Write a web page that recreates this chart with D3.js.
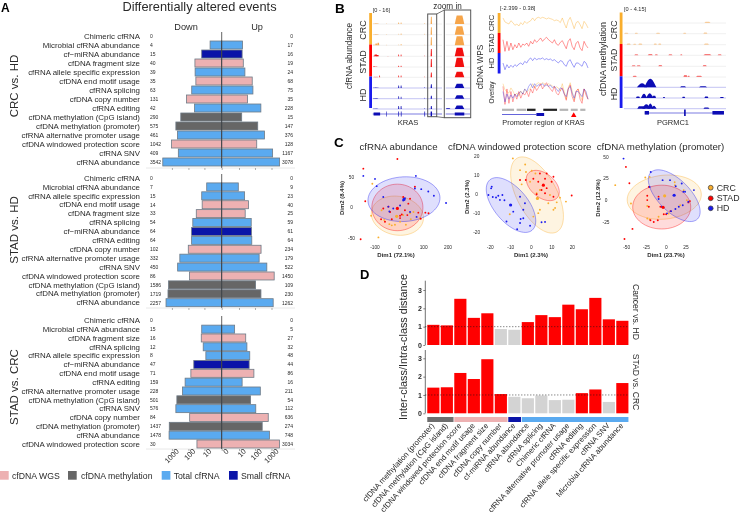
<!DOCTYPE html>
<html><head><meta charset="utf-8">
<script src="https://cdn.jsdelivr.net/npm/d3@7"></script>
<style>
html,body{margin:0;padding:0;background:#fff}
svg{display:block;filter:blur(.35px)}
text{font-family:"Liberation Sans",Arial,sans-serif;fill:#2a2a2a}
</style></head><body><svg id="c" width="740" height="517"></svg>
<script>
// ---------- Panel A data ----------
const crcHdLabels=["Chimeric cfRNA","Microbial cfRNA abundance","cf−miRNA abundance","cfDNA fragment size","cfRNA allele specific expression","cfDNA end motif usage","cfRNA splicing","cfDNA copy number","cfRNA editing","cfDNA methylation (CpG island)","cfDNA methylation (promoter)","cfRNA alternative promoter usage","cfDNA windowed protection score","cfRNA SNV","cfRNA abundance"];
const crcHdDown=[0,4,15,40,39,35,63,131,42,290,575,461,1042,409,3542];
const crcHdUp=[0,17,16,19,24,68,75,35,228,15,147,376,128,1167,3078];
const crcHdKind=["T","T","S","W","T","W","T","W","T","M","M","T","W","T","T"];

const stadHdLabels=["Chimeric cfRNA","Microbial cfRNA abundance","cfRNA allele specific expression","cfDNA end motif usage","cfDNA fragment size","cfRNA splicing","cf−miRNA abundance","cfRNA editing","cfDNA copy number","cfRNA alternative promoter usage","cfRNA SNV","cfDNA windowed protection score","cfDNA methylation (CpG island)","cfDNA methylation (promoter)","cfRNA abundance"];
const stadHdDown=[0,7,15,14,33,54,64,64,102,332,450,86,1586,1719,2257];
const stadHdUp=[0,9,23,40,25,59,61,64,234,179,522,1450,109,230,1262];
const stadHdKind=["T","T","T","W","W","T","S","T","W","T","T","W","M","M","T"];

const stadCrcLabels=["Chimeric cfRNA","Microbial cfRNA abundance","cfDNA fragment size","cfRNA splicing","cfRNA allele specific expression","cf−miRNA abundance","cfDNA end motif usage","cfRNA editing","cfRNA alternative promoter usage","cfDNA methylation (CpG island)","cfRNA SNV","cfDNA copy number","cfDNA methylation (promoter)","cfRNA abundance","cfDNA windowed protection score"];
const stadCrcDown=[0,15,16,12,8,47,71,159,228,501,576,84,1437,1478,30];
const stadCrcUp=[0,5,27,32,48,44,86,16,211,54,112,636,274,748,3034];
const stadCrcKind=["T","T","W","T","T","S","W","T","T","M","T","W","M","T","W"];

const logTicks=[-1000,-100,-10,0,10,100,1000];
const kindNames=[["W","cfDNA WGS"],["M","cfDNA methylation"],["T","Total cfRNA"],["S","Small cfRNA"]];
const kindColor={W:"#edb1b2",M:"#666666",T:"#5aaaf0",S:"#0a14a8"};

// ---------- Panel B data: [position, half-width, height] ----------
const krasTracks=[
 [[3,3,1],[6,3,1.2],[20,.7,1],[37.5,.7,2.5],[41,.7,2.5],[75,.7,1.5],[84.6,1,12]],
 [[3,3,.8],[6,3,1.2],[20,.7,.8],[37.5,.7,1.5],[41,.7,2],[75,.7,1.5],[84.6,1,12]],
 [[2,1.5,1.5],[5,1.5,3],[8,1.5,4],[20,.7,1],[37.5,.7,1.5],[41,.7,2],[75,.7,1],[84.6,1,13]],
 [[2,2,1],[4.5,2.5,3],[7,2,2],[22,1,.6],[37.5,.7,3],[41,.7,3],[75,.7,1.2],[84.6,1,12]],
 [[2,1.5,1.5],[5,2,1],[37.5,.7,2],[41,.7,2],[84.6,1,13]],
 [[3,2,1],[6,2,1],[10,.7,3],[37.5,.7,3],[41,.7,3],[75,.7,1.5],[84.6,1,8]],
 [[3,3,.8],[6,3,.8],[37.5,.8,4],[41,.8,4],[75,.7,1.5],[84.6,1,6]],
 [[3,3,1],[6,2,1],[37.5,.7,4],[41,.7,3],[75,.7,1.5],[84.6,1,5]],
 [[3,3,1],[6,2,1],[37.5,.8,5],[41,.8,5],[75,.7,1.5],[82.2,.5,1],[84.6,1,5]]
];
const krasExons=[[1.3,10.7],[19.7,20.5],[37,38],[40.6,41.6],[74.6,75.6],[83.6,85.6]];
const groupNames=["CRC","STAD","HD"];
const groupColor={CRC:"#f9ae2d",STAD:"#ff0000",HD:"#1a1aee"};
const trackGroups=["CRC","CRC","CRC","STAD","STAD","STAD","HD","HD","HD"];
const peakColor={CRC:"#f6a54a",STAD:"#f20f0f",HD:"#0c0cb4"};

const wpsCRC=[-0.31,-0.87,-1.01,-1.15,-0.69,-0.96,-1.33,-1.15,-1.43,-0.96,-1.24,-0.78,-1.06,-0.87,-0.69,-0.31,-0.69,-0.31,-0.22,-0.36,-0.22,-0.31,-0.45,-0.31,-0.41,-0.50,-0.69,-0.59,-0.69,-0.96,-0.31,-1.06,-1.70,-0.69,-0.22,-0.96,-1.80,-0.96,-0.78,-1.24,-1.80,-0.78,-1.15,-1.70];
const wpsSTAD=[-0.55,-2.17,-0.78,-2.07,-1.01,-1.94,-1.24,-1.70,-1.01,-1.61,-1.15,-1.33,-1.01,-1.47,-0.78,-1.15,-0.55,-0.92,-0.64,-0.31,-0.78,-0.45,-0.22,-0.55,-0.78,-1.01,-0.55,-1.15,-1.33,-0.92,-0.68,-1.24,-1.80,-0.78,-0.41,-1.47,-1.94,-1.01,-0.78,-1.70,-2.07,-0.78,-1.33,-1.70];
const wpsHD=[-1.01,-1.94,-1.24,-1.70,-1.33,-1.61,-1.24,-1.47,-1.15,-1.01,-1.24,-0.78,-1.01,-0.55,-0.31,-0.68,-0.31,-0.55,-0.41,-0.45,-0.31,-0.55,-0.41,-0.55,-0.45,-0.68,-0.55,-0.78,-1.01,-0.68,-0.78,-1.24,-1.47,-0.78,-0.55,-1.15,-1.61,-1.01,-1.01,-1.24,-1.47,-0.78,-1.01,-1.70];
const promoterGray=[[0,14],[17,28],[67,77],[80,88],[91,97]];
const promoterBlack=[[29,39],[48,64]];
const promoterGeneLine=[0,40];
const promoterExon=[40,49];
const promoterMark=83.4;

const methTracks=[
 [[81.8,3,.5]],
 [[2.3,2,.4],[12.1,1.5,.4],[33.4,2,.4],[59.5,1.5,.4],[79.8,2,.5]],
 [[4.6,2,.5],[10.5,1.5,.4],[16,2,.5],[30.7,1.5,.5],[35,1.5,.5],[80.8,2.5,.5]],
 [[12.1,2,.4],[25.8,2.5,.5],[31.7,1.5,.4],[45.5,2,.4],[56.2,1,.4],[81.8,4,.5],[93.8,2,.4]],
 [[9.5,2,.4],[14.4,2,.4],[35.6,2,.5],[79.1,2,.5]],
 [[10.5,2,.5],[60.2,2,.8],[63.4,1,.5],[73.6,3,.5]],
 [[17.7,5,1.7],[25.8,6,3.6],[57.9,3,.4],[77.5,4,.4]],
 [[13.7,2,.6],[19.6,3,1.8],[25.2,3.5,2],[29.4,2,1],[39.2,1,.4],[58.5,1.5,.5],[80.8,2,.6],[96,2,.4]],
 [[17,4,1],[21.9,4,1.8],[25.8,3,2.2],[29.4,2.5,1.2],[80.8,3,.5]]
];
const pgrmcLine=[20.3,98];
const pgrmcExons=[[20.3,24.5],[86.7,98]];
const pgrmcTall=[58.9,60.5];

// ---------- Panel C data (Dim1, Dim2) ----------
const abundanceCRC=[[-111,40],[-86,-49],[-116,-13],[-41,-27],[-18,-28],[27,-28],[47,-19],[85,-17],[-62,-20],[3,-23],[-73,-4],[44,-9],[-31,-29],[58,-7],[16,-12]];
const abundanceSTAD=[[-8,81],[-148,65],[-140,11],[-159,-52],[64,35],[-45,2],[-66,-1],[-75,-19],[-59,-23],[-31,-19],[23,-4],[37,7],[33,-12],[3,-13],[78,-8],[107,-8],[120,-9],[88,-18],[16,18],[44,15],[3,-17],[10,-11],[-38,-7]];
const abundanceHD=[[-148,53],[-100,48],[-93,36],[68,53],[64,32],[90,31],[119,27],[142,20],[192,8],[23,16],[-41,-6],[-25,-1],[-66,18],[44,-7],[71,-15],[3,4],[-45,2],[16,12]];
const abundanceMeans=[[-11,-14,"CRC"],[-8,-1,"STAD"],[19,14,"HD"]];

const wpsPcaCRC=[[-3,15.9],[.2,12.6],[-9,19.1],[-5.5,12.9],[-10.5,-10.4],[-4.7,5.4],[2.6,.7],[14,-1.6],[16.9,-3.7],[8.3,-4.6],[4.2,-8],[10.8,-8],[3.4,-9.8],[1,-11.6],[11.6,-7.1],[12.4,-4.1],[-.6,6.8],[-2.6,11.9],[2,11.1],[4.2,2.4],[9.1,-.2]];
const wpsPcaSTAD=[[19.7,-.5],[4.2,11.1],[7.5,11.1],[10.8,9.4],[-2.7,7.7],[6.7,8.4],[7.5,3.4],[2.6,.2],[10.8,-1.1],[3.4,6.8],[6.7,.7],[1,8.4],[9.9,6.8],[5,2.4],[-5.5,7.7]];
const wpsPcaHD=[[-19.3,4.2],[-19.6,3.3],[-20.9,-.2],[-18.8,-1.3],[-17.2,-1.5],[-16.1,-.6],[-15.3,-2.8],[-14.1,-.2],[-13.1,-3],[-12.1,-14.2],[-6.9,-18.3],[-8.8,-9],[-5.5,-15],[-5.5,-1.1],[-3.1,-4.6],[-5.2,-12.9],[-.6,-16.4],[5,-14.6],[6.7,-14.4],[-3.9,-12.5],[-3.9,-8]];
const wpsPcaMeans=[[3,-2,"CRC"],[5.9,5,"STAD"],[-10.1,-5.5,"HD"]];

const methPcaCRC=[[-64.5,17.7],[-26.5,26.5],[-21,27.3],[10.7,21],[22,11.9],[-44.6,-3.5],[-24,-21],[-21,-22],[-24,-6.4],[-9.7,-19],[3,-15.1],[11,17.7],[17.6,-5.5],[26,.3]];
const methPcaSTAD=[[-51,38.9],[-46.6,20],[-52.8,-44.7],[-42.7,-33],[-22,15.7],[-24,5.4],[-24,.4],[-22,-7.4],[-20,-23],[-15.8,-25],[-10.7,-23],[-3.1,-16],[-.1,-16],[-7.4,-7.4],[5.3,-12.4],[28,-2.3],[30,-.8],[-9.7,4.4]];
const methPcaHD=[[-54,48.5],[-19.6,33],[-4.6,23.5],[4.8,23.5],[19.6,19.6],[12,16.5],[23.8,10],[35,12],[28,-1.6],[20.9,-5.5],[15.9,-7.4],[11.6,-10],[6.1,-12.4],[1,-15],[-5.4,-7.4],[-9.6,1.6],[-21,15.7],[21.7,10]];
const methPcaMeans=[[-2,5.3,"CRC"],[-4,-8,"STAD"],[10,6,"HD"]];

// ellipses: centre, major semi-axis vector, minor semi-axis vector (data units)
const abundanceEllipses=[["CRC",-8,-13,107,-6,8,32],["STAD",-8,.7,105,0,0,38.6],["HD",19,14.4,148,3,-4,37]];
const wpsPcaEllipses=[["CRC",2.8,-.2,9.6,-19.5,8.6,4.9],["STAD",5.6,4.8,7.1,-6.4,3.8,4.8],["HD",-9.9,-5.5,10.3,-13.3,6.3,5.7]];
const methPcaEllipses=[["CRC",-2.5,3.8,46.8,4.6,2.9,-25.3],["STAD",-5.7,-7.7,36.7,0,0,25.4],["HD",10.1,5.5,29.5,-27,14.3,13.1]];

// ---------- Panel D data ----------
const featureLabels=["cfDNA methylation (promoter)","cfDNA methylation (CpG island)","cfDNA windowed protection score","cfDNA end motif usage","cfDNA fragment size","cfDNA copy number","cf-miRNA abundance","cfRNA abundance","cfRNA splicing","Chimeric cfRNA","cfRNA alternative promoter usage","cfRNA editing","cfRNA allele specific expression","cfRNA SNV","Microbial cfRNA abundance"];
const featureKind=["M","M","W","W","W","W","S","T","T","T","T","T","T","T","T"];
const cancerVsHd=[1.1,1.07,2.52,1.48,1.73,.87,.83,1.25,1.63,1.52,2.2,1.95,2.57,1.4,1.32];
const stadVsCrc=[1.4,1.42,2.2,1.87,2.95,1.05,.9,.82,.97,.72,.74,1.1,1.3,.62,1.65];

// ---------- drawing ----------
const svg=d3.select("#c");
function txt(x,y,s,size,o={}){
  const t=svg.append("text").attr("x",x).attr("y",y).attr("font-size",size).text(s)
    .attr("text-anchor",o.anchor||"start");
  if(o.weight)t.attr("font-weight",o.weight);
  if(o.rot!==undefined)t.attr("transform",`rotate(${o.rot},${x},${y})`);
  if(o.fill)t.style("fill",o.fill);
  return t;
}
// Panel letters and titles
[["A",1,12,12],["B",335,13,13.5],["C",334,146.5,13.5],["D",360,279,13]].forEach(d=>txt(d[1],d[2],d[0],d[3],{weight:"bold"}).style("fill","#000"));
txt(199.5,11,"Differentially altered events",12.8,{anchor:"middle"});
txt(186,29.5,"Down",9.2,{anchor:"middle"});
txt(257,29.5,"Up",9.2,{anchor:"middle"});

const xLog=d3.scaleSymlog().constant(1).domain([-10000,10000]).range([221.7-66.4,221.7+66.4]);

function pyramid(labels,down,up,kind,top,bottom,axisY,lineTop,sideLabel,sideY,showTickLabels,upAnchorX){
  const y=d3.scalePoint().domain(labels).range([top,bottom]);
  const g=svg.append("g");
  const ax=g.append("g").attr("transform",`translate(0,${axisY})`)
    .call(d3.axisBottom(xLog).tickValues(logTicks).tickSize(2).tickFormat(d=>showTickLabels?Math.abs(d):""));
  ax.select(".domain").remove();
  g.insert("line",":first-child").attr("x1",146).attr("x2",295).attr("y1",axisY).attr("y2",axisY).attr("stroke","#e2e2e2").attr("stroke-width",.8);
  ax.selectAll("line").attr("stroke","#777").attr("stroke-width",.6);
  if(showTickLabels){
    ax.selectAll("text").attr("font-size",7.5).attr("text-anchor","end").attr("dx",3).attr("dy",3)
      .attr("transform","rotate(-45)").attr("y",4);
  }
  const rows=labels.map((l,i)=>({l,d:down[i],u:up[i],k:kind[i]}));
  const h=8;
  g.selectAll(".d").data(rows.filter(r=>r.d>0)).join("rect")
    .attr("x",r=>xLog(-r.d)).attr("width",r=>xLog(0)-xLog(-r.d))
    .attr("y",r=>y(r.l)-h/2).attr("height",h)
    .attr("fill",r=>kindColor[r.k]).attr("stroke","#6e7a86").attr("stroke-width",.8);
  g.selectAll(".u").data(rows.filter(r=>r.u>0)).join("rect")
    .attr("x",xLog(0)).attr("width",r=>xLog(r.u)-xLog(0))
    .attr("y",r=>y(r.l)-h/2).attr("height",h)
    .attr("fill",r=>kindColor[r.k]).attr("stroke","#6e7a86").attr("stroke-width",.8);
  g.append("line").attr("x1",xLog(0)).attr("x2",xLog(0)).attr("y1",lineTop).attr("y2",axisY).attr("stroke","#222").attr("stroke-width",.7);
  rows.forEach(r=>{
    txt(140,y(r.l)+2.7,r.l,7.9,{anchor:"end"});
    txt(150,y(r.l)+1.8,r.d,5);
    txt(upAnchorX,y(r.l)+1.8,r.u,5,{anchor:"end"});
  });
  txt(18,sideY,sideLabel,11.5,{anchor:"middle",rot:-90});
}
pyramid(crcHdLabels,crcHdDown,crcHdUp,crcHdKind,36,162,168,32,"CRC vs. HD",86,false,293);
pyramid(stadHdLabels,stadHdDown,stadHdUp,stadHdKind,178,302.7,308,174,"STAD vs. HD",230,false,293);
pyramid(stadCrcLabels,stadCrcDown,stadCrcUp,stadCrcKind,320.3,444,449,316,"STAD vs. CRC",387,true,293);

// Legend A
const legendX=[0,68,161.7,229];
kindNames.forEach((k,i)=>{
  svg.append("rect").attr("x",legendX[i]).attr("y",471).attr("width",8.7).attr("height",8.7).attr("fill",kindColor[k[0]]);
  txt(legendX[i]+(i==1?13:12),479,k[1],8.7);
});

// Panel B helpers
function colorBar(x,stops){
  const bands=[[stops[0],stops[1],"CRC"],[stops[1],stops[2],"STAD"],[stops[2],stops[3],"HD"]];
  svg.selectAll(null).data(bands).join("rect").attr("x",x).attr("width",2.8)
    .attr("y",d=>d[0]).attr("height",d=>d[1]-d[0]).attr("fill",d=>groupColor[d[2]]);
}
function peakPath(xS,base,hScale,p){
  const [c,w,h]=p;
  return d3.line()([[xS(c-w),base],[xS(c-w*.6),base-hScale*h*.98],[xS(c+w*.6),base-hScale*h*.98],[xS(c+w),base]]);
}
// KRAS abundance
const krasBase=[24,34.7,45.3,56.3,67,77.3,88,98.7,109];
const xKras=d3.scaleLinear().domain([0,100]).range([372.7,442]);
const xKrasZoom=d3.scaleLinear().domain([81.7,86.8]).range([445.7,470]);
colorBar(369.2,[13,44.5,76.5,108]);
krasTracks.forEach((tr,i)=>{
  const g=trackGroups[i], b=krasBase[i];
  const lineC=g=="HD"?"#b4b4f0":"#ececec";
  [[372.7,442],[445.7,470]].forEach(r=>svg.append("line").attr("x1",r[0]).attr("x2",r[1]).attr("y1",b).attr("y2",b).attr("stroke",lineC).attr("stroke-width",.8));
  tr.forEach(p=>{
    svg.append("path").attr("d",peakPath(xKras,b,10/16,p)).attr("fill",peakColor[g]).attr("opacity",p[2]<2?.55:.95);
    if(p[0]>82&&p[0]<87) svg.append("path").attr("d",peakPath(xKrasZoom,b,.72,p)).attr("fill",peakColor[g]);
  });
});
// KRAS gene
svg.append("line").attr("x1",372.7).attr("x2",442).attr("y1",114).attr("y2",114).attr("stroke","#2222cc").attr("stroke-width",.6);
svg.append("line").attr("x1",445.7).attr("x2",470).attr("y1",114).attr("y2",114).attr("stroke","#2222cc").attr("stroke-width",.6);
krasExons.forEach(e=>{
  svg.append("rect").attr("x",xKras(e[0])).attr("width",xKras(e[1])-xKras(e[0])).attr("y",e[1]-e[0]>5?112.5:111.5).attr("height",e[1]-e[0]>5?3:5).attr("fill","#0c0cb4");
});
svg.append("rect").attr("x",xKrasZoom(83.6)).attr("width",xKrasZoom(85.6)-xKrasZoom(83.6)).attr("y",112.5).attr("height",3).attr("fill","#0c0cb4");
// Zoom callout
svg.append("rect").attr("x",427.7).attr("y",14).attr("width",9).attr("height",102.7).attr("fill","none").attr("stroke","#555").attr("stroke-width",1);
svg.append("rect").attr("x",444.3).attr("y",10).attr("width",26.4).attr("height",107.7).attr("fill","none").attr("stroke","#555").attr("stroke-width",1);
svg.append("path").attr("d","M436.7,14L444.3,10M436.7,116.7L444.3,117.7").attr("stroke","#555").attr("stroke-width",.8).attr("fill","none");
txt(447.5,9,"zoom in",8.2,{anchor:"middle"});
txt(372.7,11.5,"[0 - 16]",5.6);
txt(408,125,"KRAS",7.6,{anchor:"middle"});
txt(352,56,"cfRNA abundance",8.2,{anchor:"middle",rot:-90});
txt(366,30,"CRC",9,{anchor:"middle",rot:-90});
txt(366,62,"STAD",9,{anchor:"middle",rot:-90});
txt(366,95,"HD",9,{anchor:"middle",rot:-90});

// WPS
const xWpsIdx=d3.scaleLinear().domain([0,wpsCRC.length-1]).range([503,588]);
const xProm=d3.scaleLinear().domain([0,100]).range([502,588]);
colorBar(497.7,[13,33,53,73.5]);
const wpsRows=[["CRC",wpsCRC,13],["STAD",wpsSTAD,33],["HD",wpsHD,53]];
wpsRows.forEach(r=>{
  const yS=d3.scaleLinear().domain([-2.399,.38]).range([r[2]+20,r[2]]);
  const ln=d3.line().x((d,i)=>xWpsIdx(i)).y(d=>yS(d));
  svg.append("path").attr("d",ln(r[1])).attr("fill","none").attr("stroke",groupColor[r[0]]).attr("stroke-width",.7).attr("opacity",.6);
});
const yOver=d3.scaleLinear().domain([-2.399,.38]).range([107,76]);
wpsRows.forEach(r=>{
  const ln=d3.line().x((d,i)=>xWpsIdx(i)).y(d=>yOver(d));
  svg.append("path").attr("d",ln(r[1])).attr("fill","none").attr("stroke",groupColor[r[0]]).attr("stroke-width",.7).attr("opacity",.5);
});
promoterGray.forEach(s=>svg.append("rect").attr("x",xProm(s[0])).attr("width",xProm(s[1])-xProm(s[0])).attr("y",108.7).attr("height",2.2).attr("fill","#b5b5b5"));
promoterBlack.forEach(s=>svg.append("rect").attr("x",xProm(s[0])).attr("width",xProm(s[1])-xProm(s[0])).attr("y",108.7).attr("height",2.2).attr("fill","#222"));
svg.append("line").attr("x1",xProm(promoterGeneLine[0])).attr("x2",xProm(promoterGeneLine[1])).attr("y1",114.5).attr("y2",114.5).attr("stroke","#2222cc").attr("stroke-width",.7);
svg.append("rect").attr("x",xProm(promoterExon[0])).attr("width",xProm(promoterExon[1])-xProm(promoterExon[0])).attr("y",113).attr("height",3).attr("fill","#0c0cb4");
svg.append("path").attr("d",d3.symbol(d3.symbolTriangle,13)()).attr("transform",`translate(${xProm(promoterMark)},115.5)`).attr("fill","#ff0000");
txt(500,9.5,"[-2.399 - 0.38]",5.7);
txt(543.5,125,"Promoter region of KRAS",7.3,{anchor:"middle"});
txt(483,67,"cfDNA WPS",8.3,{anchor:"middle",rot:-90});
txt(494,23,"CRC",7.6,{anchor:"middle",rot:-90});
txt(494,43,"STAD",7.6,{anchor:"middle",rot:-90});
txt(494,63,"HD",7.6,{anchor:"middle",rot:-90});
txt(493.5,92.5,"Overlay",6.4,{anchor:"middle",rot:-90});

// Methylation tracks
const methBase=[23,33.7,44.7,55.3,66.3,77,87.3,98,108.7];
const xMeth=d3.scaleLinear().domain([0,100]).range([624,726]);
colorBar(619.7,[12.5,44,76.3,108]);
methTracks.forEach((tr,i)=>{
  const g=trackGroups[i],b=methBase[i];
  svg.append("line").attr("x1",624).attr("x2",726).attr("y1",b).attr("y2",b).attr("stroke",g=="HD"?"#b4b4f0":"#ececec").attr("stroke-width",.8);
  tr.forEach(p=>{
    const big=p[2]>1;
    const pts=[[xMeth(p[0]-p[1]),b],[xMeth(p[0]),b-p[2]*10/4.15],[xMeth(p[0]+p[1]),b]];
    const path=big?d3.line().curve(d3.curveMonotoneX)(pts):peakPath(xMeth,b,10/4.15,p);
    svg.append("path").attr("d",path).attr("fill",peakColor[g]).attr("opacity",g=="HD"?1:.55);
  });
});
svg.append("line").attr("x1",xMeth(pgrmcLine[0])).attr("x2",xMeth(pgrmcLine[1])).attr("y1",113).attr("y2",113).attr("stroke","#2222cc").attr("stroke-width",.6);
pgrmcExons.forEach(e=>svg.append("rect").attr("x",xMeth(e[0])).attr("width",xMeth(e[1])-xMeth(e[0])).attr("y",111).attr("height",3.6).attr("fill","#0c0cb4"));
svg.append("rect").attr("x",xMeth(pgrmcTall[0])).attr("width",xMeth(pgrmcTall[1])-xMeth(pgrmcTall[0])).attr("y",109.5).attr("height",6.5).attr("fill","#0c0cb4");
txt(624,10.5,"[0 - 4.15]",5.6);
txt(673,125,"PGRMC1",7.5,{anchor:"middle"});
txt(605.5,59,"cfDNA methylation",9,{anchor:"middle",rot:-90});
txt(617,30,"CRC",8.8,{anchor:"middle",rot:-90});
txt(617,60,"STAD",8.8,{anchor:"middle",rot:-90});
txt(617,94,"HD",8.8,{anchor:"middle",rot:-90});

// Panel C
function pca(o){
  const x=d3.scaleLinear().domain(o.xd).range(o.xr), y=d3.scaleLinear().domain(o.yd).range(o.yr);
  const g=svg.append("g");
  const ts=d3.range(0,65).map(i=>i/64*2*Math.PI);
  o.ellipses.forEach(e=>{
    const pts=ts.map(t=>[x(e[1]+Math.cos(t)*e[3]+Math.sin(t)*e[5]),y(e[2]+Math.cos(t)*e[4]+Math.sin(t)*e[6])]);
    g.append("path").attr("d",d3.line()(pts)).attr("fill",groupColor[e[0]]).attr("fill-opacity",.14)
      .attr("stroke",groupColor[e[0]]).attr("stroke-opacity",.55).attr("stroke-width",.7);
  });
  [["CRC",o.crc],["STAD",o.stad],["HD",o.hd]].forEach(s=>{
    g.selectAll(null).data(s[1]).join("circle").attr("cx",d=>x(d[0])).attr("cy",d=>y(d[1])).attr("r",.95).attr("fill",groupColor[s[0]]);
  });
  g.selectAll(null).data(o.means).join("circle").attr("cx",d=>x(d[0])).attr("cy",d=>y(d[1])).attr("r",1.6).attr("fill",d=>groupColor[d[2]]);
  o.xt.forEach(v=>txt(x(v),o.tickY,v,4.8,{anchor:"middle"}));
  o.yt.forEach(v=>txt(o.yTickX,y(v)+1.6,v,4.8,{anchor:"middle"}));
  txt(o.dimX,257,o.xl,6,{anchor:"middle",weight:"bold"});
  txt(o.dimYX,o.dimYY,o.yl,6,{anchor:"middle",weight:"bold",rot:-90});
  txt(o.titleX,150,o.title,o.titleSize,{anchor:"middle"});
}
pca({xd:[-100,200],xr:[375,448],yd:[-50,50],yr:[238,177.7],ellipses:abundanceEllipses,crc:abundanceCRC,stad:abundanceSTAD,hd:abundanceHD,means:abundanceMeans,xt:[-100,0,100,200],yt:[-50,0,50],tickY:249,yTickX:351.5,dimX:396,xl:"Dim1 (72.1%)",dimYX:344,dimYY:198,yl:"Dim2 (8.4%)",titleX:398.5,title:"cfRNA abundance",titleSize:9.7});
pca({xd:[-20,20],xr:[490.3,572.3],yd:[-20,20],yr:[232.5,156.7],ellipses:wpsPcaEllipses,crc:wpsPcaCRC,stad:wpsPcaSTAD,hd:wpsPcaHD,means:wpsPcaMeans,xt:[-20,-10,0,10,20],yt:[-20,-10,0,10,20],tickY:249,yTickX:476.7,dimX:531,xl:"Dim1 (2.3%)",dimYX:468.5,dimYY:197,yl:"Dim2 (2.3%)",titleX:519.7,title:"cfDNA windowed protection score",titleSize:9.6});
pca({xd:[-50,25],xr:[626.7,686],yd:[-25,50],yr:[222,157.3],ellipses:methPcaEllipses,crc:methPcaCRC,stad:methPcaSTAD,hd:methPcaHD,means:methPcaMeans,xt:[-50,-25,0,25],yt:[-25,0,25,50],tickY:249,yTickX:606,dimX:666,xl:"Dim1 (23.7%)",dimYX:599.5,dimYY:198,yl:"Dim2 (12.9%)",titleX:660.5,title:"cfDNA methylation (promoter)",titleSize:9.7});
groupNames.forEach((g,i)=>{
  const cy=[187.7,198.3,208.3][i];
  svg.append("circle").attr("cx",710.7).attr("cy",cy).attr("r",2.4).attr("fill",groupColor[g]).attr("stroke","#333").attr("stroke-width",.7);
  txt(716.7,cy+3,g,8.8);
});

// Panel D
const xD=d3.scaleBand().domain(featureLabels).range([426.6,629.1]).paddingInner(.1).paddingOuter(.05);
function barsD(values,zero,top,strip,stripY){
  const y=d3.scaleLinear().domain([0,3]).range([zero,zero-55]);
  const rows=featureLabels.map((l,i)=>({l,v:values[i]}));
  svg.selectAll(null).data(rows).join("rect").attr("x",d=>xD(d.l)).attr("width",xD.bandwidth())
    .attr("y",d=>y(d.v)).attr("height",d=>zero-y(d.v)).attr("fill",d=>d.v>=1?"#ff0000":"#d3d3d3");
  const ax=svg.append("g").attr("transform","translate(425.3,0)").call(d3.axisLeft(y).tickValues([0,1,2,3]).tickFormat(d3.format("d")).tickSize(2).tickPadding(1.5));
  ax.select(".domain").attr("d",`M0,${zero}V${top}`).attr("stroke","#333").attr("stroke-width",.7);
  ax.selectAll("line").attr("stroke","#333").attr("stroke-width",.6);
  ax.selectAll("text").attr("font-size",7).attr("font-weight","bold");
  svg.append("line").attr("x1",425.3).attr("x2",629).attr("y1",y(1)).attr("y2",y(1)).attr("stroke","#111").attr("stroke-width",.7).attr("stroke-dasharray","1,2");
  txt(632.5,stripY,strip,8.6,{anchor:"middle",rot:90});
}
barsD(cancerVsHd,345,280.7,"Cancer vs. HD",312);
barsD(stadVsCrc,413.3,350,"STAD vs. CRC",382);
const kindRuns=d3.groups(featureLabels.map((l,i)=>({l,k:featureKind[i]})),d=>d.k);
kindRuns.forEach(([k,items],j)=>{
  const x0=xD(items[0].l),x1=xD(items[items.length-1].l)+xD.bandwidth();
  svg.append("rect").attr("x",x0).attr("width",x1-x0+(j<3?.6:0)).attr("y",417).attr("height",5).attr("fill",k=="M"?"#6e6e6e":kindColor[k]);
});
featureLabels.forEach(l=>{
  const x=xD(l)+xD.bandwidth()/2+1.5;
  txt(x,426,l,7.8,{anchor:"end",rot:-48});
});
txt(407,347,"Inter-class/Intra-class distance",10.8,{anchor:"middle",rot:-90});
</script></body></html>
